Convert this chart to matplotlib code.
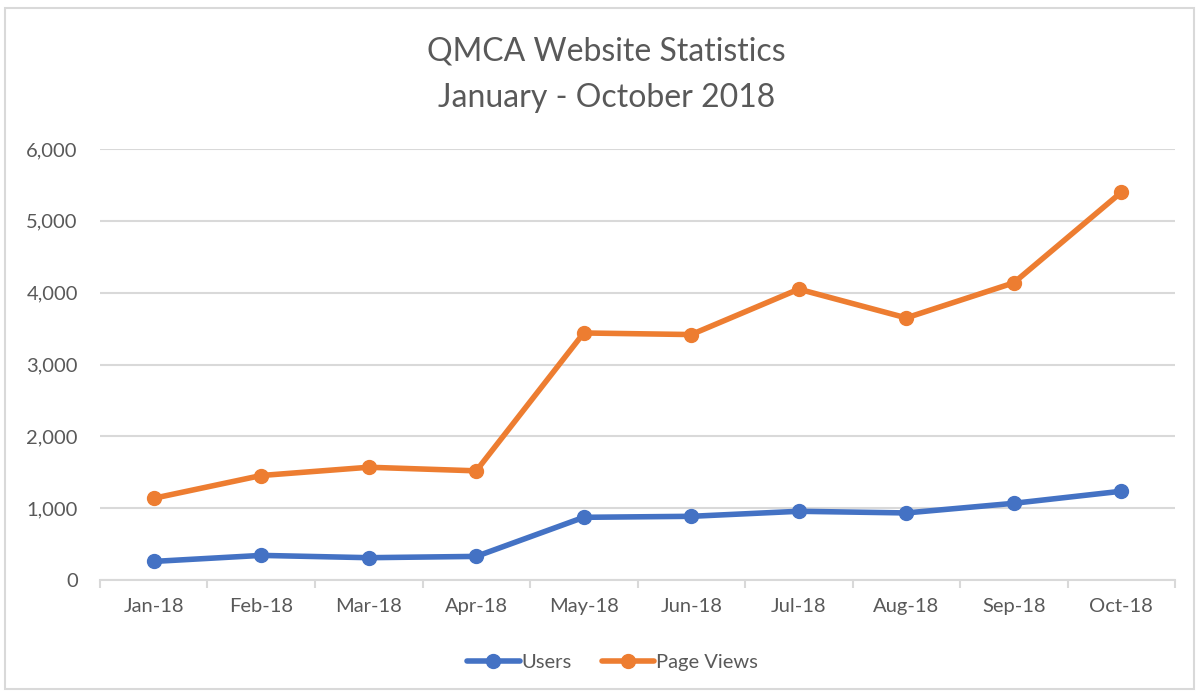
import matplotlib
matplotlib.use("Agg")
import matplotlib.pyplot as plt
from matplotlib.patches import Rectangle
import numpy as np

months = ["Jan-18", "Feb-18", "Mar-18", "Apr-18", "May-18", "Jun-18",
          "Jul-18", "Aug-18", "Sep-18", "Oct-18"]
users = [259, 343, 311, 329, 873, 887, 957, 934, 1068, 1236]
page_views = [1138, 1455, 1570, 1520, 3439, 3417, 4049, 3649, 4137, 5397]
y_ticks = [0, 1000, 2000, 3000, 4000, 5000, 6000]

plt.rcParams['font.family'] = ['Lato', 'DejaVu Sans']
TXT = "#595959"
GRID = "#D9D9D9"

fig = plt.figure(figsize=(11.99, 6.92), dpi=100)
fig.patches.append(Rectangle((0.004, 0.004), 0.992, 0.984, transform=fig.transFigure,
                             fill=False, edgecolor=GRID, linewidth=1.5))
ax = fig.add_axes([0.0834, 0.1618, 0.8966, 0.6229])

x = np.arange(len(months))
ax.plot(x, users, color="#4472C4", linewidth=4, marker="o", markersize=10,
        label="Users", solid_capstyle="round")
ax.plot(x, page_views, color="#ED7D31", linewidth=4, marker="o", markersize=10,
        label="Page Views", solid_capstyle="round")

ax.set_xlim(-0.5, len(months) - 0.5)
ax.set_ylim(0, 6000)
ax.set_yticks(y_ticks)
ax.set_yticklabels([f"{v:,}" for v in y_ticks])
ax.set_xticks(x)
ax.set_xticklabels(months)
ax.set_xticks(np.arange(-0.5, len(months)), minor=True)
ax.tick_params(axis="x", which="major", length=0, pad=13, labelsize=14.5, labelcolor=TXT)
ax.tick_params(axis="x", which="minor", length=6, width=1.5, color=GRID)
ax.tick_params(axis="y", length=0, pad=16, labelsize=14.5, labelcolor=TXT)
ax.grid(axis="y", color=GRID, linewidth=1.5)
ax.set_axisbelow(True)
for s in ["top", "right", "left"]:
    ax.spines[s].set_visible(False)
ax.spines["bottom"].set_color(GRID)
ax.spines["bottom"].set_linewidth(1.5)

fig.text(0.506, 0.926, "QMCA Website Statistics", ha="center", va="center",
         fontsize=23, color=TXT)
fig.text(0.506, 0.858, "January - October 2018", ha="center", va="center",
         fontsize=23, color=TXT)

leg = fig.legend(loc="center", bbox_to_anchor=(0.511, 0.043), ncol=2, frameon=False,
                 fontsize=14.5, handlelength=2.6, handletextpad=0.1, columnspacing=1.5)
for t in leg.get_texts():
    t.set_color(TXT)

fig.savefig("out.png", dpi=100)
